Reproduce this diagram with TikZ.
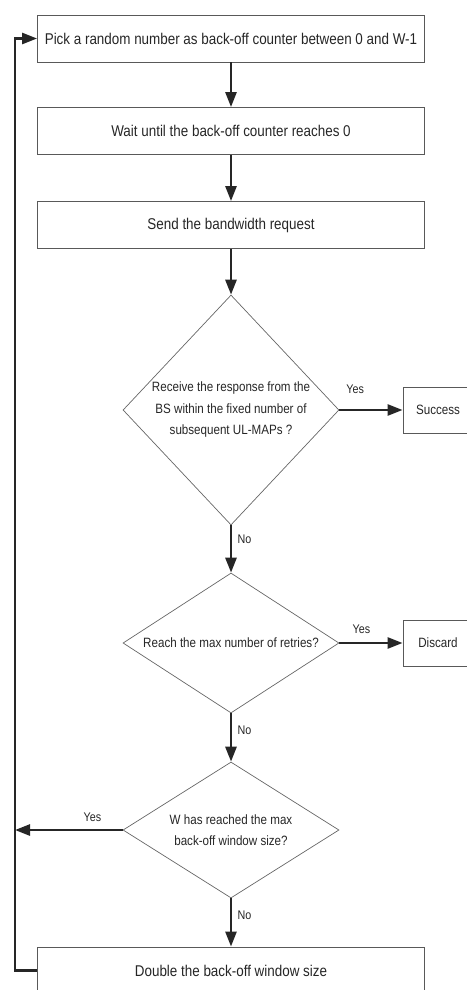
\documentclass[tikz,border=0pt]{standalone}
\usepackage{fontspec}
\setmainfont{Liberation Sans}[FakeStretch=0.86]
\usetikzlibrary{shapes.geometric,arrows.meta}

\begin{document}
\begin{tikzpicture}[x=1pt,y=-1pt,
  every node/.style={font=\fontsize{15.6}{18}\selectfont,text=black!85},
  box/.style={draw=black!65,line width=0.9pt,minimum width=387pt,minimum height=47pt,inner sep=0pt},
  endbox/.style={draw=black!65,line width=0.9pt,minimum width=70pt,minimum height=46pt,inner sep=0pt,
    font=\fontsize{13.5}{16}\selectfont},
  decision/.style={draw=black!60,line width=0.7pt,diamond,inner sep=0pt,align=center,
    font=\fontsize{13.5}{21.5}\selectfont},
  flow/.style={line width=2.6pt,draw=black!85,-{Triangle[length=15pt,width=11pt]}},
  lbl/.style={font=\fontsize{12.5}{14}\selectfont}]
 \useasboundingbox (0,0) rectangle (466,990);
 % main column
 \node[box] (pick) at (231,38.5) {Pick a random number as back-off counter between 0 and W-1};
 \node[box] (wait) at (231,131) {Wait until the back-off counter reaches 0};
 \node[box] (send) at (231,225) {Send the bandwidth request};
 \node[decision,aspect=0.94,minimum width=216pt,minimum height=230pt] (resp) at (231,410)
   {Receive the response from the\\BS within the fixed number of\\subsequent UL-MAPs ?};
 \node[decision,aspect=1.54,minimum width=216pt,minimum height=140pt] (retry) at (231,643)
   {Reach the max number of retries?};
 \node[decision,aspect=1.6,minimum width=216pt,minimum height=136pt] (wmax) at (231,830)
   {W has reached the max\\back-off window size?};
 \node[box] (dbl) at (231,970.5) {Double the back-off window size};
 % outcomes
 \node[endbox] (succ) at (438,410) {Success};
 \node[endbox] (disc) at (438,643) {Discard};
 \coordinate (bot) at (15,970.5);
 \coordinate (top) at (15,38.5);
 % arrows
 \draw[flow] (pick) -- (wait);
 \draw[flow] (wait) -- (send);
 \draw[flow] (send) -- (resp);
 \draw[flow] (resp) -- node[lbl,pos=0.3,anchor=west,xshift=2pt]{No} (retry);
 \draw[flow] (retry) -- node[lbl,pos=0.35,anchor=west,xshift=2pt]{No} (wmax);
 \draw[flow] (wmax) -- node[lbl,pos=0.35,anchor=west,xshift=2pt]{No} (dbl);
 \draw[flow] (resp) -- node[lbl,pos=0.25,anchor=south,yshift=12pt]{Yes} (succ);
 \draw[flow] (retry) -- node[lbl,pos=0.35,anchor=south,yshift=5pt]{Yes} (disc);
 \draw[flow] (wmax.west) -- node[lbl,pos=0.28,anchor=south,yshift=4pt]{Yes} (wmax.west -| bot);
 \draw[flow] (dbl.west) -- (bot) -- (top) -- (pick.west);
\end{tikzpicture}
\end{document}
